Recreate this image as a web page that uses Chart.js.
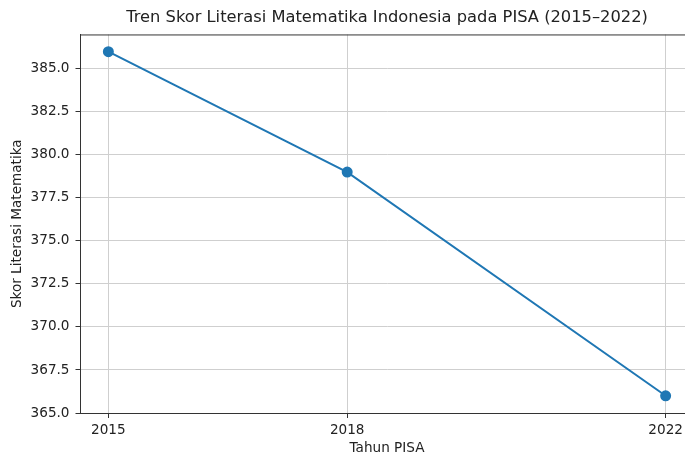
<!DOCTYPE html>
<html>
<head>
<meta charset="utf-8">
<script src="https://cdn.jsdelivr.net/npm/chart.js@4.4.0/dist/chart.umd.min.js"></script>
<style>
  html, body { margin: 0; padding: 0; background: #fff; overflow: hidden; }
  #wrap { position: absolute; left: 0; top: 0; width: 700px; height: 455px; }
</style>
</head>
<body>
<div id="wrap"><canvas id="pisaChart"></canvas></div>
<script>
// PISA math literacy scores for Indonesia
const years = [2015, 2018, 2022];
const scores = [386, 379, 366];
const yTicks = [365, 367.5, 370, 372.5, 375, 377.5, 380, 382.5, 385];
const xTicks = [2015, 2018, 2022];

const FONT = "'DejaVu Sans', sans-serif";

// matplotlib draws a box round the axes, add the top spine
const topSpine = {
  id: "topSpine",
  afterDraw(chart) {
    const { ctx, chartArea } = chart;
    ctx.save();
    ctx.strokeStyle = "#333";
    ctx.lineWidth = 1;
    ctx.beginPath();
    ctx.moveTo(chartArea.left, chartArea.top + 0.5);
    ctx.lineTo(chartArea.right, chartArea.top + 0.5);
    ctx.stroke();
    ctx.restore();
  }
};

new Chart(document.getElementById("pisaChart").getContext("2d"), {
  type: "line",
  data: {
    datasets: [{
      data: years.map((y, i) => ({ x: y, y: scores[i] })),
      borderColor: "#1f77b4",
      backgroundColor: "#1f77b4",
      borderWidth: 2,
      pointRadius: 4.5,
      pointHoverRadius: 4.5,
      tension: 0
    }]
  },
  options: {
    responsive: true,
    maintainAspectRatio: false,
    animation: false,
    layout: { padding: 0 },
    plugins: {
      legend: { display: false },
      tooltip: { enabled: false },
      title: {
        display: true,
        fullSize: false,
        text: "Tren Skor Literasi Matematika Indonesia pada PISA (2015–2022)",
        color: "#222",
        font: { family: FONT, size: 16.3, weight: "normal" },
        padding: { top: 8.2, bottom: 6.7 }
      }
    },
    scales: {
      x: {
        type: "linear",
        min: 2014.65,
        max: 2022.35,
        afterBuildTicks: (scale) => { scale.ticks = xTicks.map(v => ({ value: v })); },
        afterFit: (scale) => { scale.height = 42; },
        ticks: {
          color: "#222",
          font: { family: FONT, size: 13.6 },
          padding: 4,
          maxRotation: 0,
          callback: (v) => String(v)
        },
        grid: { color: "#cfcfcf", lineWidth: 1, tickColor: "#333", tickLength: 5 },
        border: { color: "#333", width: 1 },
        title: {
          display: true,
          text: "Tahun PISA",
          color: "#222",
          font: { family: FONT, size: 13.6 },
          padding: { top: 0, bottom: -1.5 }
        }
      },
      y: {
        min: 365,
        max: 387,
        afterBuildTicks: (scale) => { scale.ticks = yTicks.map(v => ({ value: v })); },
        afterFit: (scale) => { scale.width = 80.5; },
        ticks: {
          color: "#222",
          font: { family: FONT, size: 13.6 },
          padding: 6,
          callback: (v) => v.toFixed(1)
        },
        grid: { color: "#cfcfcf", lineWidth: 1, tickColor: "#333", tickLength: 5 },
        border: { color: "#333", width: 1 },
        title: {
          display: true,
          text: "Skor Literasi Matematika",
          color: "#222",
          font: { family: FONT, size: 13.6 },
          padding: { top: 9, bottom: 0 }
        }
      }
    }
  },
  plugins: [topSpine]
});
</script>
</body>
</html>
